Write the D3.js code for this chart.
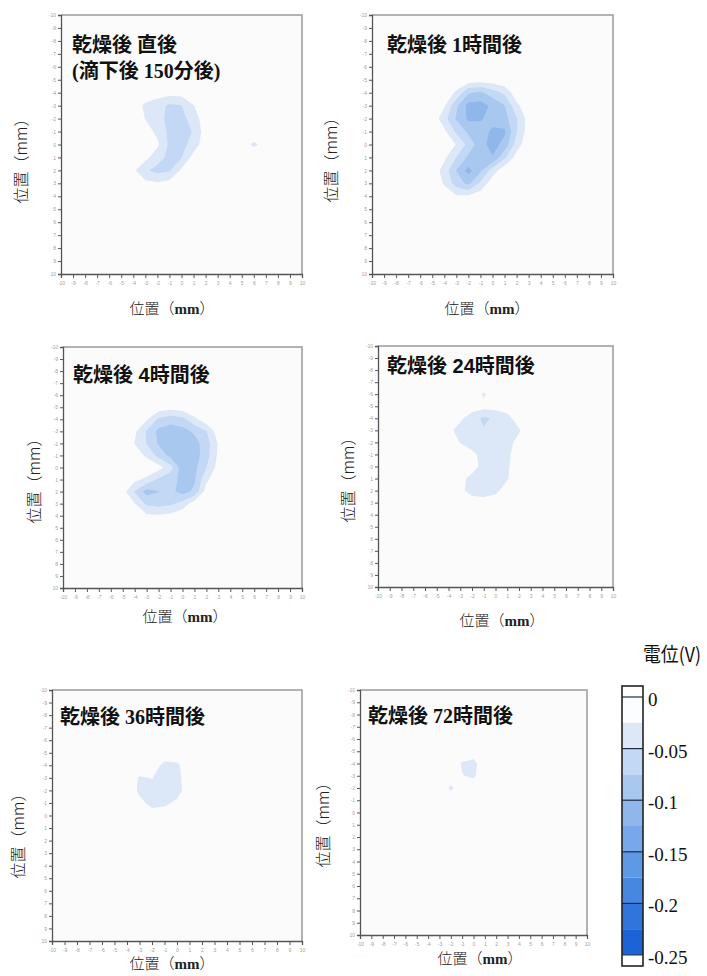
<!DOCTYPE html>
<html>
<head>
<meta charset="utf-8">
<script src="https://cdn.jsdelivr.net/npm/d3@7"></script>
<style>
  body { margin: 0; background: #fff; }
  svg { display: block; }
</style>
</head>
<body>
<svg id="chart" width="707" height="976"></svg>
<script>
// measurement grid positions (mm), x = columns, y = rows (top row is -10)
const mmTicks = [-10, -9, -8, -7, -6, -5, -4, -3, -2, -1, 0, 1, 2, 3, 4, 5, 6, 7, 8, 9, 10];

// surface potential in mV on a 1 mm grid (21 x 21)
const potential0h = [
  [0,0,0,0,0,0,0,0,0,0,0,0,0,0,0,0,0,0,0,0,0],
  [0,0,0,0,0,0,0,0,0,0,0,0,0,0,0,0,0,0,0,0,0],
  [0,0,0,0,0,0,0,0,0,0,0,0,0,0,0,0,0,0,0,0,0],
  [0,0,0,0,0,0,0,0,0,0,0,0,0,0,0,0,0,0,0,0,0],
  [0,0,0,0,0,0,0,0,0,0,0,0,0,0,0,0,0,0,0,0,0],
  [0,0,0,0,0,0,0,0,0,0,0,0,0,0,0,0,0,0,0,0,0],
  [0,0,0,0,0,0,0,-10,-14,-16,-14,-6,0,0,0,0,0,0,0,0,0],
  [0,0,0,0,0,0,-10,-30,-38,-55,-51,-26,-8,0,0,0,0,0,0,0,0],
  [0,0,0,0,0,0,-8,-26,-38,-60,-58,-38,-10,0,0,0,0,0,0,0,0],
  [0,0,0,0,0,0,0,-12,-32,-56,-62,-48,-12,0,0,0,0,0,0,0,0],
  [0,0,0,0,0,0,0,-5,-20,-55,-58,-40,-8,0,0,-8,-32,-12,0,0,0],
  [0,0,0,0,0,0,-5,-18,-40,-57,-51,-15,0,0,0,0,0,0,0,0,0],
  [0,0,0,0,0,-5,-20,-46,-58,-53,-20,-5,0,0,0,0,0,0,0,0,0],
  [0,0,0,0,0,0,-8,-18,-22,-15,-5,0,0,0,0,0,0,0,0,0,0],
  [0,0,0,0,0,0,0,0,0,0,0,0,0,0,0,0,0,0,0,0,0],
  [0,0,0,0,0,0,0,0,0,0,0,0,0,0,0,0,0,0,0,0,0],
  [0,0,0,0,0,0,0,0,0,0,0,0,0,0,0,0,0,0,0,0,0],
  [0,0,0,0,0,0,0,0,0,0,0,0,0,0,0,0,0,0,0,0,0],
  [0,0,0,0,0,0,0,0,0,0,0,0,0,0,0,0,0,0,0,0,0],
  [0,0,0,0,0,0,0,0,0,0,0,0,0,0,0,0,0,0,0,0,0],
  [0,0,0,0,0,0,0,0,0,0,0,0,0,0,0,0,0,0,0,0,0]
];

const potential1h = [
  [0,0,0,0,0,0,0,0,0,0,0,0,0,0,0,0,0,0,0,0,0],
  [0,0,0,0,0,0,0,0,0,0,0,0,0,0,0,0,0,0,0,0,0],
  [0,0,0,0,0,0,0,0,0,0,0,0,0,0,0,0,0,0,0,0,0],
  [0,0,0,0,0,0,0,0,0,0,0,0,0,0,0,0,0,0,0,0,0],
  [0,0,0,0,0,0,0,0,0,0,0,0,0,0,0,0,0,0,0,0,0],
  [0,0,0,0,0,0,0,-4,-10,-12,-10,-4,0,0,0,0,0,0,0,0,0],
  [0,0,0,0,0,0,-8,-30,-72,-80,-62,-45,-8,0,0,0,0,0,0,0,0],
  [0,0,0,0,0,-5,-22,-70,-108,-110,-95,-76,-32,-5,0,0,0,0,0,0,0],
  [0,0,0,0,0,-8,-40,-78,-105,-104,-88,-85,-52,-14,0,0,0,0,0,0,0],
  [0,0,0,0,0,-5,-20,-55,-80,-85,-106,-104,-52,-12,0,0,0,0,0,0,0],
  [0,0,0,0,0,0,-8,-26,-58,-90,-110,-92,-38,-6,0,0,0,0,0,0,0],
  [0,0,0,0,0,-5,-20,-51,-80,-88,-98,-55,-15,0,0,0,0,0,0,0,0],
  [0,0,0,0,0,-10,-35,-76,-108,-80,-38,-8,0,0,0,0,0,0,0,0,0],
  [0,0,0,0,0,-6,-28,-62,-82,-45,-10,0,0,0,0,0,0,0,0,0,0],
  [0,0,0,0,0,0,-10,-22,-20,-10,0,0,0,0,0,0,0,0,0,0,0],
  [0,0,0,0,0,0,0,0,0,0,0,0,0,0,0,0,0,0,0,0,0],
  [0,0,0,0,0,0,0,0,0,0,0,0,0,0,0,0,0,0,0,0,0],
  [0,0,0,0,0,0,0,0,0,0,0,0,0,0,0,0,0,0,0,0,0],
  [0,0,0,0,0,0,0,0,0,0,0,0,0,0,0,0,0,0,0,0,0],
  [0,0,0,0,0,0,0,0,0,0,0,0,0,0,0,0,0,0,0,0,0],
  [0,0,0,0,0,0,0,0,0,0,0,0,0,0,0,0,0,0,0,0,0]
];

const potential4h = [
  [0,0,0,0,0,0,0,0,0,0,0,0,0,0,0,0,0,0,0,0,0],
  [0,0,0,0,0,0,0,0,0,0,0,0,0,0,0,0,0,0,0,0,0],
  [0,0,0,0,0,0,0,0,0,0,0,0,0,0,0,0,0,0,0,0,0],
  [0,0,0,0,0,0,0,0,0,0,0,0,0,0,0,0,0,0,0,0,0],
  [0,0,0,0,0,0,0,0,0,0,0,0,0,0,0,0,0,0,0,0,0],
  [0,0,0,0,0,0,0,0,-10,-14,-10,0,0,0,0,0,0,0,0,0,0],
  [0,0,0,0,0,0,-5,-22,-55,-65,-58,-32,-8,0,0,0,0,0,0,0,0],
  [0,0,0,0,0,-5,-20,-52,-82,-88,-85,-70,-51,-10,0,0,0,0,0,0,0],
  [0,0,0,0,0,-8,-26,-51,-78,-90,-92,-85,-62,-22,-3,0,0,0,0,0,0],
  [0,0,0,0,0,0,-10,-30,-58,-82,-92,-88,-60,-20,0,0,0,0,0,0,0],
  [0,0,0,0,0,0,0,-5,-15,-40,-90,-82,-51,-15,0,0,0,0,0,0,0],
  [0,0,0,0,0,-5,-18,-32,-55,-65,-82,-78,-30,-5,0,0,0,0,0,0,0],
  [0,0,0,0,-3,-15,-52,-85,-76,-68,-85,-70,-12,0,0,0,0,0,0,0,0],
  [0,0,0,0,0,-5,-24,-55,-60,-55,-40,-10,0,0,0,0,0,0,0,0,0],
  [0,0,0,0,0,0,-8,-20,-22,-18,-8,0,0,0,0,0,0,0,0,0,0],
  [0,0,0,0,0,0,0,0,0,0,0,0,0,0,0,0,0,0,0,0,0],
  [0,0,0,0,0,0,0,0,0,0,0,0,0,0,0,0,0,0,0,0,0],
  [0,0,0,0,0,0,0,0,0,0,0,0,0,0,0,0,0,0,0,0,0],
  [0,0,0,0,0,0,0,0,0,0,0,0,0,0,0,0,0,0,0,0,0],
  [0,0,0,0,0,0,0,0,0,0,0,0,0,0,0,0,0,0,0,0,0],
  [0,0,0,0,0,0,0,0,0,0,0,0,0,0,0,0,0,0,0,0,0]
];

const potential24h = [
  [0,0,0,0,0,0,0,0,0,0,0,0,0,0,0,0,0,0,0,0,0],
  [0,0,0,0,0,0,0,0,0,0,0,0,0,0,0,0,0,0,0,0,0],
  [0,0,0,0,0,0,0,0,0,0,0,0,0,0,0,0,0,0,0,0,0],
  [0,0,0,0,0,0,0,0,0,0,0,0,0,0,0,0,0,0,0,0,0],
  [0,0,0,0,0,0,0,0,0,-30,0,0,0,0,0,0,0,0,0,0,0],
  [0,0,0,0,0,0,0,-5,-12,-15,-15,-10,0,0,0,0,0,0,0,0,0],
  [0,0,0,0,0,0,-5,-20,-38,-55,-45,-35,-10,0,0,0,0,0,0,0,0],
  [0,0,0,0,0,-5,-18,-35,-40,-48,-42,-38,-28,-5,0,0,0,0,0,0,0],
  [0,0,0,0,0,0,-8,-26,-38,-40,-40,-35,-15,0,0,0,0,0,0,0,0],
  [0,0,0,0,0,0,0,-5,-18,-35,-38,-32,-8,0,0,0,0,0,0,0,0],
  [0,0,0,0,0,0,0,0,-15,-33,-38,-30,-5,0,0,0,0,0,0,0,0],
  [0,0,0,0,0,0,-5,-18,-32,-36,-36,-27,-5,0,0,0,0,0,0,0,0],
  [0,0,0,0,0,0,-5,-20,-33,-36,-32,-12,0,0,0,0,0,0,0,0,0],
  [0,0,0,0,0,0,0,-8,-15,-15,-10,0,0,0,0,0,0,0,0,0,0],
  [0,0,0,0,0,0,0,0,0,0,0,0,0,0,0,0,0,0,0,0,0],
  [0,0,0,0,0,0,0,0,0,0,0,0,0,0,0,0,0,0,0,0,0],
  [0,0,0,0,0,0,0,0,0,0,0,0,0,0,0,0,0,0,0,0,0],
  [0,0,0,0,0,0,0,0,0,0,0,0,0,0,0,0,0,0,0,0,0],
  [0,0,0,0,0,0,0,0,0,0,0,0,0,0,0,0,0,0,0,0,0],
  [0,0,0,0,0,0,0,0,0,0,0,0,0,0,0,0,0,0,0,0,0],
  [0,0,0,0,0,0,0,0,0,0,0,0,0,0,0,0,0,0,0,0,0]
];

const potential36h = [
  [0,0,0,0,0,0,0,0,0,0,0,0,0,0,0,0,0,0,0,0,0],
  [0,0,0,0,0,0,0,0,0,0,0,0,0,0,0,0,0,0,0,0,0],
  [0,0,0,0,0,0,0,0,0,0,0,0,0,0,0,0,0,0,0,0,0],
  [0,0,0,0,0,0,0,0,0,0,0,0,0,0,0,0,0,0,0,0,0],
  [0,0,0,0,0,0,0,0,0,0,0,0,0,0,0,0,0,0,0,0,0],
  [0,0,0,0,0,0,0,0,0,-10,-8,0,0,0,0,0,0,0,0,0,0],
  [0,0,0,0,0,0,0,-5,-12,-32,-30,-8,0,0,0,0,0,0,0,0,0],
  [0,0,0,0,0,0,-5,-28,-24,-38,-34,-8,0,0,0,0,0,0,0,0,0],
  [0,0,0,0,0,0,-8,-30,-36,-38,-35,-10,0,0,0,0,0,0,0,0,0],
  [0,0,0,0,0,0,-3,-18,-32,-30,-20,-5,0,0,0,0,0,0,0,0,0],
  [0,0,0,0,0,0,0,-5,-15,-12,-5,0,0,0,0,0,0,0,0,0,0],
  [0,0,0,0,0,0,0,0,0,0,0,0,0,0,0,0,0,0,0,0,0],
  [0,0,0,0,0,0,0,0,0,0,0,0,0,0,0,0,0,0,0,0,0],
  [0,0,0,0,0,0,0,0,0,0,0,0,0,0,0,0,0,0,0,0,0],
  [0,0,0,0,0,0,0,0,0,0,0,0,0,0,0,0,0,0,0,0,0],
  [0,0,0,0,0,0,0,0,0,0,0,0,0,0,0,0,0,0,0,0,0],
  [0,0,0,0,0,0,0,0,0,0,0,0,0,0,0,0,0,0,0,0,0],
  [0,0,0,0,0,0,0,0,0,0,0,0,0,0,0,0,0,0,0,0,0],
  [0,0,0,0,0,0,0,0,0,0,0,0,0,0,0,0,0,0,0,0,0],
  [0,0,0,0,0,0,0,0,0,0,0,0,0,0,0,0,0,0,0,0,0],
  [0,0,0,0,0,0,0,0,0,0,0,0,0,0,0,0,0,0,0,0,0]
];

const potential72h = [
  [0,0,0,0,0,0,0,0,0,0,0,0,0,0,0,0,0,0,0,0,0],
  [0,0,0,0,0,0,0,0,0,0,0,0,0,0,0,0,0,0,0,0,0],
  [0,0,0,0,0,0,0,0,0,0,0,0,0,0,0,0,0,0,0,0,0],
  [0,0,0,0,0,0,0,0,0,0,0,0,0,0,0,0,0,0,0,0,0],
  [0,0,0,0,0,0,0,0,0,0,0,0,0,0,0,0,0,0,0,0,0],
  [0,0,0,0,0,0,0,0,0,-5,-8,0,0,0,0,0,0,0,0,0,0],
  [0,0,0,0,0,0,0,0,-5,-28,-34,-6,0,0,0,0,0,0,0,0,0],
  [0,0,0,0,0,0,0,0,-3,-24,-30,-5,0,0,0,0,0,0,0,0,0],
  [0,0,0,0,0,0,0,0,-32,-5,-5,0,0,0,0,0,0,0,0,0,0],
  [0,0,0,0,0,0,0,0,0,0,0,0,0,0,0,0,0,0,0,0,0],
  [0,0,0,0,0,0,0,0,0,0,0,0,0,0,0,0,0,0,0,0,0],
  [0,0,0,0,0,0,0,0,0,0,0,0,0,0,0,0,0,0,0,0,0],
  [0,0,0,0,0,0,0,0,0,0,0,0,0,0,0,0,0,0,0,0,0],
  [0,0,0,0,0,0,0,0,0,0,0,0,0,0,0,0,0,0,0,0,0],
  [0,0,0,0,0,0,0,0,0,0,0,0,0,0,0,0,0,0,0,0,0],
  [0,0,0,0,0,0,0,0,0,0,0,0,0,0,0,0,0,0,0,0,0],
  [0,0,0,0,0,0,0,0,0,0,0,0,0,0,0,0,0,0,0,0,0],
  [0,0,0,0,0,0,0,0,0,0,0,0,0,0,0,0,0,0,0,0,0],
  [0,0,0,0,0,0,0,0,0,0,0,0,0,0,0,0,0,0,0,0,0],
  [0,0,0,0,0,0,0,0,0,0,0,0,0,0,0,0,0,0,0,0,0],
  [0,0,0,0,0,0,0,0,0,0,0,0,0,0,0,0,0,0,0,0,0]
];

const panelTitles = [
  ["乾燥後 直後", "(滴下後 150分後)"],
  ["乾燥後 1時間後"],
  ["乾燥後 4時間後"],
  ["乾燥後 24時間後"],
  ["乾燥後 36時間後"],
  ["乾燥後 72時間後"]
];

// colour scale: band edges in V and one colour per band
const bandEdges = [0, -0.025, -0.05, -0.075, -0.1, -0.125, -0.15, -0.175, -0.2, -0.225, -0.25];
const bandColors = ["#fcfdfe", "#dce8f8", "#c3d8f4", "#a9c8ef", "#8fb7eb", "#78a8e7", "#5f98e3", "#4787df", "#2f75db", "#1b63d6"];
const legendTicks = [0, -0.05, -0.1, -0.15, -0.2, -0.25];

const SERIF = "'Liberation Serif', 'Noto Sans CJK JP', serif";
const SANS = "'Liberation Sans', 'Noto Sans CJK JP', sans-serif";

// page layout of the six maps
const panels = [
  { grid: potential0h,  box: [61, 302, 15, 274],  titleAt: [72, 52],  xLabelAt: [172, 314], yLabelAt: [21, 157],  font: SERIF },
  { grid: potential1h,  box: [372, 613, 15, 274], titleAt: [387, 52], xLabelAt: [487, 314], yLabelAt: [331, 156], font: SERIF },
  { grid: potential4h,  box: [63, 302, 347, 588], titleAt: [73, 382], xLabelAt: [185, 622], yLabelAt: [34, 477],  font: SANS },
  { grid: potential24h, box: [378, 613, 346, 587], titleAt: [387, 373], xLabelAt: [502, 626], yLabelAt: [348, 476], font: SANS },
  { grid: potential36h, box: [52, 302, 690, 941], titleAt: [60, 724], xLabelAt: [172, 969], yLabelAt: [18, 832],  font: SERIF },
  { grid: potential72h, box: [360, 587, 690, 935], titleAt: [368, 723], xLabelAt: [480, 964], yLabelAt: [323, 821], font: SERIF }
];

const svg = d3.select("#chart");
const defs = svg.append("defs");

const contours = d3.contours()
  .size([mmTicks.length, mmTicks.length])
  .thresholds(bandEdges.slice(1, -1).map(v => -v));

panels.forEach((p, i) => {
  const [x0, x1, y0, y1] = p.box;
  const x = d3.scaleLinear().domain([-10, 10]).range([x0, x1]);
  const y = d3.scaleLinear().domain([-10, 10]).range([y0, y1]);
  const g = svg.append("g");

  defs.append("clipPath").attr("id", "clip" + i)
    .append("rect")
      .attr("x", x0).attr("y", y0)
      .attr("width", x1 - x0).attr("height", y1 - y0);

  g.append("rect")
    .attr("x", x0).attr("y", y0)
    .attr("width", x1 - x0).attr("height", y1 - y0)
    .attr("fill", "#fbfbfc");

  // grid cell j sits at contour coordinate j + 0.5  ->  mm = c - 10.5
  const path = d3.geoPath(d3.geoTransform({
    point(cx, cy) { this.stream.point(x(cx - 10.5), y(cy - 10.5)); }
  }));

  const values = p.grid.flat().map(v => -v / 1000);

  g.append("g")
      .attr("clip-path", `url(#clip${i})`)
    .selectAll("path")
    .data(contours(values))
    .join("path")
      .attr("d", path)
      .attr("fill", (d, k) => bandColors[k + 1]);

  // top and right frame
  g.append("path")
    .attr("d", `M${x0},${y0}H${x1}V${y1}`)
    .attr("fill", "none")
    .attr("stroke", "#9a9a9a")
    .attr("stroke-width", 1.5);

  const yAxis = g.append("g")
    .attr("transform", `translate(${x0},0)`)
    .call(d3.axisLeft(y).tickValues(mmTicks).tickSize(3).tickPadding(2).tickFormat(d => String(d)));

  const xAxis = g.append("g")
    .attr("transform", `translate(0,${y1})`)
    .call(d3.axisBottom(x).tickValues(mmTicks).tickSize(4).tickPadding(3).tickFormat(d => String(d)));

  [yAxis, xAxis].forEach(a => {
    a.select(".domain").attr("stroke", "#555").attr("stroke-width", 1.3);
    a.selectAll(".tick line").attr("stroke", "#555");
    a.selectAll("text")
      .attr("fill", "#a0a0a0")
      .style("font-size", "5px")
      .style("font-family", "'Liberation Sans', sans-serif");
  });

  panelTitles[i].forEach((line, k) => {
    g.append("text")
      .attr("x", p.titleAt[0])
      .attr("y", p.titleAt[1] + k * 26)
      .style("font-family", p.font)
      .style("font-size", "20px")
      .style("font-weight", "bold")
      .attr("fill", "#111")
      .text(line);
  });

  const xl = g.append("text")
    .attr("x", p.xLabelAt[0])
    .attr("y", p.xLabelAt[1])
    .attr("text-anchor", "middle")
    .style("font-family", "'Noto Sans CJK JP', sans-serif")
    .style("font-size", "15px")
    .style("font-weight", "300")
    .attr("fill", "#222");
  xl.append("tspan").text("位置（");
  xl.append("tspan").style("font-weight", "bold").style("font-family", "'Liberation Serif', serif").text("mm");
  xl.append("tspan").text("）");

  g.append("text")
    .attr("transform", `translate(${p.yLabelAt[0]},${p.yLabelAt[1]}) rotate(-90)`)
    .attr("text-anchor", "middle")
    .attr("dy", "0.35em")
    .style("font-family", "'Noto Sans CJK JP', sans-serif")
    .style("font-size", "16px")
    .style("font-weight", "300")
    .attr("fill", "#222")
    .text("位置（mm）");
});

// colour bar
const cbX = 622, cbW = 21;
const cb = d3.scaleLinear().domain([0, -0.25]).range([697, 955]);
const legend = svg.append("g");

legend.append("text")
  .attr("x", 643).attr("y", 662)
  .attr("textLength", 58)
  .attr("lengthAdjust", "spacingAndGlyphs")
  .style("font-family", "'Noto Sans CJK JP', sans-serif")
  .style("font-size", "20px")
  .attr("fill", "#111")
  .text("電位(V)");

legend.append("rect")
  .attr("x", cbX).attr("y", cb(0) - 11)
  .attr("width", cbW).attr("height", 11)
  .attr("fill", "#fff");
legend.append("rect")
  .attr("x", cbX).attr("y", cb(-0.25))
  .attr("width", cbW).attr("height", 11)
  .attr("fill", "#fff");

legend.selectAll("rect.band")
  .data(d3.pairs(bandEdges))
  .join("rect")
    .attr("class", "band")
    .attr("x", cbX)
    .attr("y", d => cb(d[0]))
    .attr("width", cbW)
    .attr("height", d => cb(d[1]) - cb(d[0]))
    .attr("fill", (d, k) => bandColors[k]);

legend.selectAll("line.major")
  .data(legendTicks.slice(0, -1))
  .join("line")
    .attr("class", "major")
    .attr("x1", cbX).attr("x2", cbX + cbW)
    .attr("y1", d => cb(d)).attr("y2", d => cb(d))
    .attr("stroke", "#1b2a44")
    .attr("stroke-width", 1.2);
legend.append("line")
  .attr("x1", cbX).attr("x2", cbX + cbW)
  .attr("y1", cb(-0.25)).attr("y2", cb(-0.25))
  .attr("stroke", "#333");

legend.append("rect")
  .attr("x", cbX).attr("y", cb(0) - 11)
  .attr("width", cbW).attr("height", cb(-0.25) - cb(0) + 22)
  .attr("fill", "none")
  .attr("stroke", "#222")
  .attr("stroke-width", 1.6);

const cbAxis = legend.append("g")
  .attr("transform", `translate(${cbX + cbW},0)`)
  .call(d3.axisRight(cb).tickValues(legendTicks).tickSize(0).tickPadding(5).tickFormat(d => String(d)));
cbAxis.select(".domain").remove();
cbAxis.selectAll("text")
  .attr("fill", "#111")
  .attr("dy", "0.45em")
  .style("font-family", "'Liberation Serif', serif")
  .style("font-size", "19px");
</script>
</body>
</html>
